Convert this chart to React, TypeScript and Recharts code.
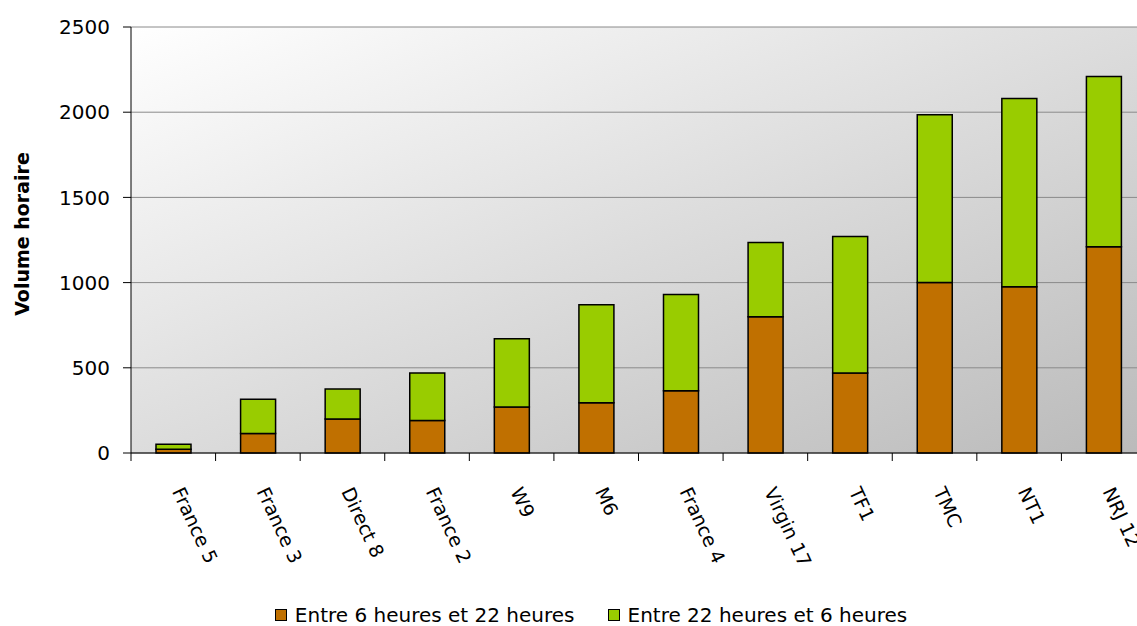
import { Bar, BarChart, CartesianGrid, Legend, XAxis, YAxis } from 'recharts';

const channels = ['France 5', 'France 3', 'Direct 8', 'France 2', 'W9', 'M6', 'France 4', 'Virgin 17', 'TF1', 'TMC', 'NT1', 'NRJ 12'];
const dayHours = [22, 115, 200, 190, 270, 295, 365, 800, 470, 1000, 975, 1210];
const nightHours = [30, 200, 175, 280, 400, 575, 565, 435, 800, 985, 1105, 1000];
const yTicks = [0, 500, 1000, 1500, 2000, 2500];
const seriesNames = ['Entre 6 heures et 22 heures', 'Entre 22 heures et 6 heures'];
const seriesColors = ['#C07000', '#99CC00'];

const FONT = '"DejaVu Sans", Verdana, sans-serif';
const CHART_W = 1150;
const CHART_H = 626;
const MARGIN = { top: 27, right: 4, left: 0, bottom: 0 };
const Y_AXIS_W = 131;
const BAND = (CHART_W - MARGIN.left - MARGIN.right - Y_AXIS_W) / channels.length;

const data = channels.map((name, i) => ({
  name,
  day: dayHours[i],
  night: nightHours[i],
}));

function ChannelTick({ x, y, payload, index }: any) {
  return (
    <g transform={`translate(${x},${y})`}>
      <line x1={-BAND / 2} x2={-BAND / 2} y1={0} y2={8} stroke="#000" />
      {index === channels.length - 1 && (
        <line x1={BAND / 2} x2={BAND / 2} y1={0} y2={8} stroke="#000" />
      )}
      <text
        transform="translate(4.5,35.5) rotate(65)"
        textAnchor="start"
        dy="0.35em"
        fontSize={19}
        fontFamily={FONT}
        fill="#000"
      >
        {payload.value}
      </text>
    </g>
  );
}

function LegendContent({ payload }: any) {
  const items = [...(payload || [])].sort(
    (a: any, b: any) => seriesNames.indexOf(a.value) - seriesNames.indexOf(b.value)
  );
  return (
    <div
      style={{
        display: 'flex',
        justifyContent: 'center',
        alignItems: 'center',
        height: 30,
        paddingLeft: 45,
        gap: 33,
        fontFamily: FONT,
        fontSize: 20,
        color: '#000',
        position: 'relative',
        top: 4,
      }}
    >
      {items.map((item: any) => (
        <span key={item.value} style={{ display: 'flex', alignItems: 'center' }}>
          <span
            style={{
              width: 10,
              height: 10,
              background: item.color,
              border: '1.5px solid #000',
              marginRight: 8,
            }}
          />
          {item.value}
        </span>
      ))}
    </div>
  );
}

export default function App() {
  return (
    <div
      style={{
        position: 'absolute',
        left: 0,
        top: 0,
        width: 1137,
        height: 626,
        overflow: 'hidden',
        background: '#fff',
      }}
    >
      <BarChart width={CHART_W} height={CHART_H} data={data} margin={MARGIN}>
        <defs>
          <linearGradient id="plotBg" x1="0" y1="0" x2="1" y2="1">
            <stop offset="0%" stopColor="#ffffff" />
            <stop offset="100%" stopColor="#bababa" />
          </linearGradient>
        </defs>
        <CartesianGrid
          vertical={false}
          stroke="#8a8a8a"
          fill="url(#plotBg)"
          fillOpacity={1}
        />
        <XAxis
          dataKey="name"
          height={143}
          interval={0}
          tickLine={false}
          tickSize={0}
          tickMargin={0}
          axisLine={{ stroke: '#000' }}
          tick={(props: any) => <ChannelTick {...props} />}
        />
        <YAxis
          width={Y_AXIS_W}
          domain={[0, 2500]}
          ticks={yTicks}
          interval={0}
          tickSize={8}
          tickMargin={13}
          axisLine={{ stroke: '#000' }}
          tickLine={{ stroke: '#000' }}
          tick={{ fill: '#000', fontSize: 20, fontFamily: FONT }}
          label={{
            content: ({ viewBox }: any) => (
              <text
                x={viewBox.x + 22}
                y={viewBox.y + viewBox.height / 2 - 6}
                transform={`rotate(-90, ${viewBox.x + 22}, ${viewBox.y + viewBox.height / 2 - 6})`}
                textAnchor="middle"
                dominantBaseline="central"
                fontSize={19}
                fontWeight="bold"
                fontFamily={FONT}
                fill="#000"
              >
                Volume horaire
              </text>
            ),
          }}
        />
        <Legend
          verticalAlign="bottom"
          wrapperStyle={{ left: 0, width: 1137 }}
          content={(props: any) => <LegendContent {...props} />}
        />
        <Bar
          dataKey="day"
          name={seriesNames[0]}
          stackId="a"
          fill={seriesColors[0]}
          stroke="#000"
          strokeWidth={1.5}
          barSize={35}
          isAnimationActive={false}
        />
        <Bar
          dataKey="night"
          name={seriesNames[1]}
          stackId="a"
          fill={seriesColors[1]}
          stroke="#000"
          strokeWidth={1.5}
          barSize={35}
          isAnimationActive={false}
        />
      </BarChart>
    </div>
  );
}
